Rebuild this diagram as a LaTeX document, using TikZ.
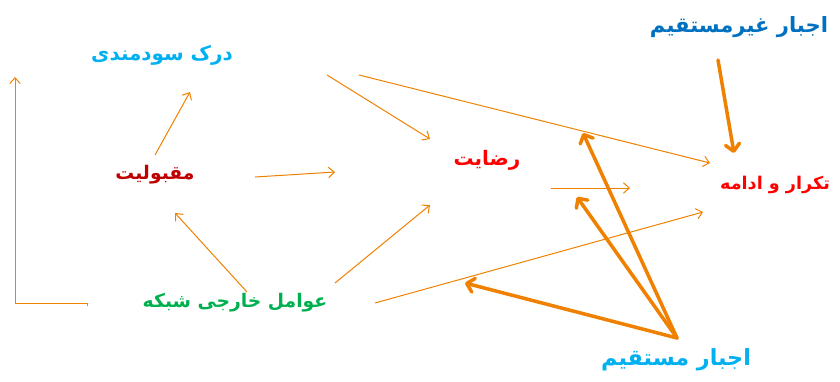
\documentclass[tikz,border=0pt]{standalone}
\usepackage{fontspec}
\usetikzlibrary{arrows.meta}
\newfontfamily\farsi[Script=Arabic]{DejaVu Sans}
\TeXXeTstate=1
\definecolor{arroworange}{RGB}{240,128,0}
\definecolor{skyblue}{RGB}{0,176,240}
\definecolor{deepblue}{RGB}{0,112,192}
\definecolor{darkred}{RGB}{192,0,0}
\definecolor{brightred}{RGB}{255,0,0}
\definecolor{leafgreen}{RGB}{0,176,80}

\begin{document}
\begin{tikzpicture}[
        x={(0.03cm,0)}, y={(0,-0.03cm)},
        concept/.style={font=\farsi\bfseries\fontsize{#1}{20}\selectfont, inner sep=1pt},
        concept/.default=16,
        link/.style={draw=arroworange, line width=0.85pt, -{Straight Barb[length=5pt,width=9pt]}},
        force/.style={draw=arroworange, line width=3pt, line cap=round, -{Straight Barb[round,length=6pt,width=12pt]}}
    ]
        \useasboundingbox (0,0) rectangle (840,381);

        % Konsep-konsep utama
        \node[concept=17, text=skyblue]   (DS) at (162,55)  {\beginR درک سودمندی\endR};
        \node[concept=16, text=darkred]   (MQ) at (155,175) {\beginR مقبولیت\endR};
        \node[concept=17, text=brightred] (RZ) at (487,160) {\beginR رضایت\endR};
        \node[concept=15, text=brightred] (TK) at (775,185) {\beginR تکرار و ادامه\endR};
        \node[concept=16, text=leafgreen] (AK) at (235,303) {\beginR عوامل خارجی شبکه\endR};
        \node[concept=18, text=deepblue]  (AG) at (739,27)  {\beginR اجبار غیرمستقیم\endR};
        \node[concept=19, text=skyblue]   (AM) at (676,360) {\beginR اجبار مستقیم\endR};

        % Jalur balik di sisi kiri
        \draw[link] ([shift={(-148,3)}]AK.center) -- ++(0,-3) -| ([shift={(-147,22)}]DS.center);

        % Hubungan antar konsep (panah tipis)
        \draw[link] ([shift={(0,-20)}]MQ.center) -- ([shift={(28,37)}]DS.center);
        \draw[link] ([shift={(100,2)}]MQ.center) -- ([shift={(-152,12)}]RZ.center);
        \draw[link] ([shift={(12,-11)}]AK.center) -- ([shift={(20,38)}]MQ.center);
        \draw[link] ([shift={(100,-20)}]AK.center) -- ([shift={(-57,45)}]RZ.center);
        \draw[link] ([shift={(140,0)}]AK.center) -- ([shift={(-72,27)}]TK.center);
        \draw[link] ([shift={(165,20)}]DS.center) -- ([shift={(-57,-21)}]RZ.center);
        \draw[link] ([shift={(197,20)}]DS.center) -- ([shift={(-65,-22)}]TK.center);
        \draw[link] ([shift={(64,28)}]RZ.center) -- ([shift={(-145,3)}]TK.center);

        % Pengaruh paksaan (panah tebal)
        \draw[force] ([shift={(-21,33)}]AG.center) -- ([shift={(-41,-32)}]TK.center);
        \draw[force] ([shift={(1,-22)}]AM.center) -- ([shift={(-192,-52)}]TK.center);
        \draw[force] ([shift={(1,-22)}]AM.center) -- ([shift={(-198,12)}]TK.center);
        \draw[force] ([shift={(1,-22)}]AM.center) -- ([shift={(230,-20)}]AK.center);
\end{tikzpicture}
\end{document}
